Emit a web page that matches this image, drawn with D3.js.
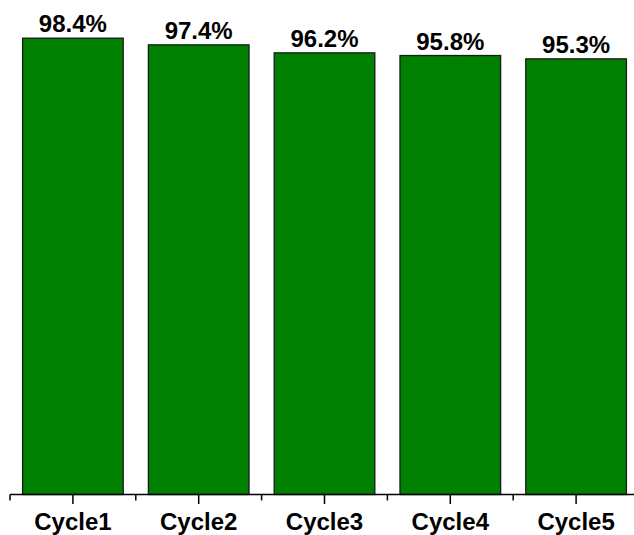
<!DOCTYPE html>
<html><head><meta charset="utf-8">
<script src="https://cdn.jsdelivr.net/npm/d3@7"></script>
<style>html,body{margin:0;padding:0;background:#fff;}svg{display:block;}</style>
</head><body>
<script>
const categories = ["Cycle1","Cycle2","Cycle3","Cycle4","Cycle5"];
const values = [98.4, 97.4, 96.2, 95.8, 95.3];
const valueLabels = ["98.4%","97.4%","96.2%","95.8%","95.3%"];
const yDomain = [30, 100];

const W = 634, H = 535;
const svg = d3.select("body").append("svg").attr("width", W).attr("height", H);
svg.append("rect").attr("width", W).attr("height", H).attr("fill", "#fff");

const x = d3.scaleBand().domain(categories).range([10, 639]).paddingInner(0.2).paddingOuter(0.1);
const y = d3.scaleLinear().domain(yDomain).range([494.5, 27.5]);

svg.selectAll("rect.bar").data(values).join("rect")
  .attr("class","bar")
  .attr("x", (d,i) => x(categories[i]))
  .attr("width", x.bandwidth())
  .attr("y", d => y(d))
  .attr("height", d => y(yDomain[0]) - y(d))
  .attr("fill", "#008000")
  .attr("stroke", "#1a1a1a")
  .attr("stroke-width", 1.3);

svg.selectAll("text.val").data(values).join("text")
  .attr("class","val")
  .attr("x", (d,i) => x(categories[i]) + x.bandwidth()/2)
  .attr("y", d => y(d) - 6)
  .attr("text-anchor","middle")
  .attr("font-family","'Liberation Sans', Arial, sans-serif")
  .attr("font-weight","bold")
  .attr("font-size", 24)
  .attr("fill","#000")
  .text((d,i) => valueLabels[i]);

// bottom axis
const step = x.step();
const x0 = 10;
const ax = svg.append("g");
ax.append("line").attr("x1", x0).attr("x2", x0 + step*categories.length)
  .attr("y1", 494.5).attr("y2", 494.5).attr("stroke","#000").attr("stroke-width",1.5);
// major ticks at centers
ax.selectAll("line.maj").data(categories).join("line").attr("class","maj")
  .attr("x1", c => x(c) + x.bandwidth()/2).attr("x2", c => x(c) + x.bandwidth()/2)
  .attr("y1", 494.5).attr("y2", 504).attr("stroke","#000").attr("stroke-width",1.5);
// minor ticks at boundaries
ax.selectAll("line.min").data(d3.range(categories.length+1)).join("line").attr("class","min")
  .attr("x1", i => x0 + i*step).attr("x2", i => x0 + i*step)
  .attr("y1", 494.5).attr("y2", 500.5).attr("stroke","#000").attr("stroke-width",1.5);
ax.selectAll("text").data(categories).join("text")
  .attr("x", c => x(c) + x.bandwidth()/2)
  .attr("y", 530)
  .attr("text-anchor","middle")
  .attr("font-family","'Liberation Sans', Arial, sans-serif")
  .attr("font-weight","bold")
  .attr("font-size", 24)
  .attr("fill","#000")
  .text(c => c);
</script>
</body></html>
